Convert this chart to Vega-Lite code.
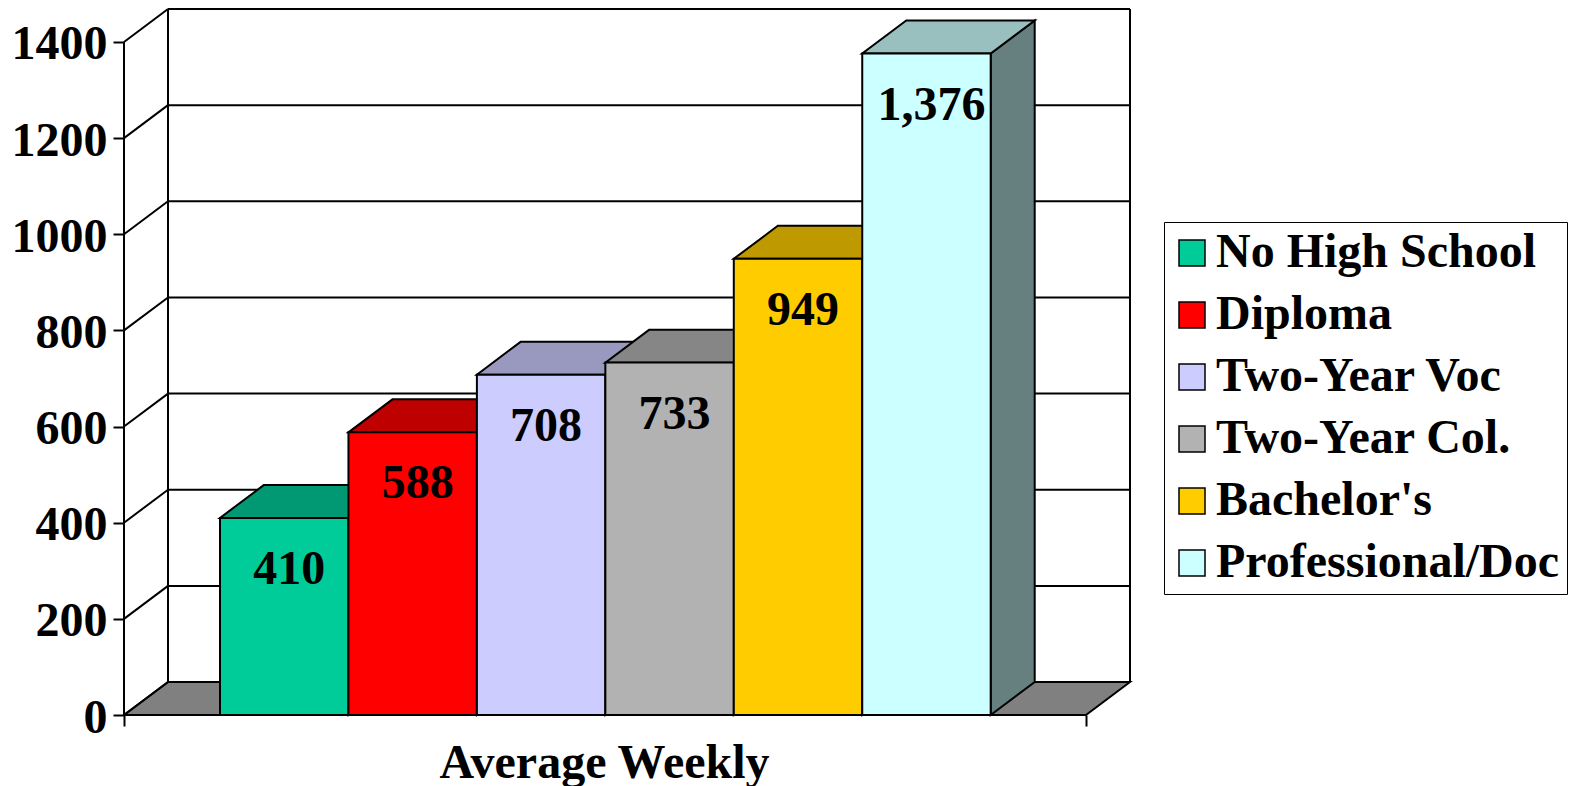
{
  "$schema": "https://vega.github.io/schema/vega-lite/v6.json",
  "width": 1006,
  "height": 706,
  "autosize": "none",
  "padding": {"left": 124, "top": 9, "right": 440, "bottom": 71},
  "config": {"font": "Liberation Serif", "view": {"stroke": null}},
  "datasets": {
    "bars": [
      {"category": "No High School", "value": 410},
      {"category": "Diploma", "value": 588},
      {"category": "Two-Year Voc", "value": 708},
      {"category": "Two-Year Col.", "value": 733},
      {"category": "Bachelor's", "value": 949},
      {"category": "Professional/Doc", "value": 1376}
    ],
    "ticks": [
      {"v": 0}, {"v": 200}, {"v": 400}, {"v": 600},
      {"v": 800}, {"v": 1000}, {"v": 1200}, {"v": 1400}
    ]
  },
  "data": {"name": "bars"},
  "resolve": {"scale": {"fill": "independent"}},
  "layer": [
    {
      "data": {"name": "ticks"},
      "transform": [
        {"filter": "datum.v == 0"},
        {"calculate": "0", "as": "d0"},
        {"calculate": "1", "as": "d1"},
        {"fold": ["d0", "d1"], "as": ["k", "d"]},
        {"calculate": "datum.d * 68.6", "as": "fy"},
        {"calculate": "datum.d * 0.3426", "as": "fx"},
        {"calculate": "7.489 + datum.d * 0.3426", "as": "fx2"}
      ],
      "mark": {"type": "area", "orient": "horizontal", "fill": "#808080", "stroke": "black", "strokeWidth": 2},
      "encoding": {
        "y": {
          "field": "fy", "type": "quantitative",
          "scale": {"domain": [0, 1468.6], "nice": false, "zero": false},
          "axis": {
            "values": [0, 200, 400, 600, 800, 1000, 1200, 1400], "format": "d",
            "title": null, "domain": false, "grid": false,
            "tickSize": 11, "tickWidth": 2, "tickColor": "black",
            "labelFontSize": 48, "labelFontWeight": "bold", "labelColor": "black",
            "labelFont": "Liberation Serif", "labelPadding": 6, "labelOffset": 3,
            "labelFlush": false, "labelBaseline": "middle"
          }
        },
        "x": {
          "field": "fx", "type": "quantitative", "stack": null,
          "scale": {"domain": [0, 7.832], "nice": false, "zero": false},
          "axis": {
            "values": [0, 7.489], "labels": false, "domain": false, "grid": false,
            "tickSize": 11, "tickWidth": 2, "tickColor": "black",
            "title": "Average Weekly", "titleFontSize": 48, "titleFontWeight": "bold",
            "titleColor": "black", "titleFont": "Liberation Serif",
            "titleX": 480, "titleY": 62, "titleBaseline": "alphabetic", "titleAlign": "center"
          }
        },
        "x2": {"field": "fx2"}
      }
    },
    {
      "data": {"name": "ticks"},
      "transform": [{"calculate": "datum.v + 68.6", "as": "by"}],
      "mark": {"type": "rule", "color": "black", "strokeWidth": 2},
      "encoding": {
        "x": {"datum": 0.3426, "type": "quantitative", "scale": {"domain": [0, 7.832], "nice": false, "zero": false}},
        "x2": {"datum": 7.832},
        "y": {"field": "by", "type": "quantitative", "scale": {"domain": [0, 1468.6], "nice": false, "zero": false}}
      }
    },
    {
      "data": {"name": "ticks"},
      "transform": [{"calculate": "datum.v + 68.6", "as": "by"}],
      "mark": {"type": "rule", "color": "black", "strokeWidth": 2},
      "encoding": {
        "x": {"datum": 0, "type": "quantitative", "scale": {"domain": [0, 7.832], "nice": false, "zero": false}},
        "x2": {"datum": 0.3426},
        "y": {"field": "v", "type": "quantitative", "scale": {"domain": [0, 1468.6], "nice": false, "zero": false}},
        "y2": {"field": "by"}
      }
    },
    {
      "data": {"values": [{}]},
      "mark": {"type": "rule", "color": "black", "strokeWidth": 2},
      "encoding": {
        "x": {"datum": 0.3426, "type": "quantitative", "scale": {"domain": [0, 7.832], "nice": false, "zero": false}},
        "y": {"datum": 68.6, "type": "quantitative", "scale": {"domain": [0, 1468.6], "nice": false, "zero": false}},
        "y2": {"datum": 1468.6}
      }
    },
    {
      "data": {"values": [{}]},
      "mark": {"type": "rule", "color": "black", "strokeWidth": 2},
      "encoding": {
        "x": {"datum": 7.832, "type": "quantitative", "scale": {"domain": [0, 7.832], "nice": false, "zero": false}},
        "y": {"datum": 68.6, "type": "quantitative", "scale": {"domain": [0, 1468.6], "nice": false, "zero": false}},
        "y2": {"datum": 1468.6}
      }
    },
    {
      "data": {"values": [{}]},
      "mark": {"type": "rule", "color": "black", "strokeWidth": 2},
      "encoding": {
        "x": {"datum": 0, "type": "quantitative", "scale": {"domain": [0, 7.832], "nice": false, "zero": false}},
        "y": {"datum": 0, "type": "quantitative", "scale": {"domain": [0, 1468.6], "nice": false, "zero": false}},
        "y2": {"datum": 1400}
      }
    },
    {
      "transform": [
        {"window": [{"op": "row_number", "as": "idx"}]},
        {"calculate": "0.7474 + datum.idx", "as": "R"},
        {"calculate": "0", "as": "d0"},
        {"calculate": "1", "as": "d1"},
        {"fold": ["d0", "d1"], "as": ["k", "d"]},
        {"calculate": "datum.R + datum.d * 0.3426", "as": "sx"},
        {"calculate": "datum.d * 68.6", "as": "sy"},
        {"calculate": "datum.value + datum.d * 68.6", "as": "sy2"}
      ],
      "mark": {"type": "area", "orient": "vertical", "stroke": "black", "strokeWidth": 2, "fillOpacity": 1},
      "encoding": {
        "x": {"field": "sx", "type": "quantitative", "scale": {"domain": [0, 7.832], "nice": false, "zero": false}},
        "y": {"field": "sy2", "type": "quantitative", "stack": null, "scale": {"domain": [0, 1468.6], "nice": false, "zero": false}},
        "y2": {"field": "sy"},
        "fill": {
          "field": "category", "type": "nominal", "legend": null,
          "scale": {
            "domain": ["No High School", "Diploma", "Two-Year Voc", "Two-Year Col.", "Bachelor's", "Professional/Doc"],
            "range": ["#006650", "#800000", "#666680", "#595959", "#806600", "#668080"]
          }
        }
      }
    },
    {
      "transform": [
        {"window": [{"op": "row_number", "as": "idx"}]},
        {"calculate": "0.7474 + datum.idx - 1", "as": "L"},
        {"calculate": "0", "as": "d0"},
        {"calculate": "1", "as": "d1"},
        {"fold": ["d0", "d1"], "as": ["k", "d"]},
        {"calculate": "datum.L + datum.d * 0.3426", "as": "tx"},
        {"calculate": "datum.L + 1 + datum.d * 0.3426", "as": "tx2"},
        {"calculate": "datum.value + datum.d * 68.6", "as": "ty"}
      ],
      "mark": {"type": "area", "orient": "horizontal", "stroke": "black", "strokeWidth": 2, "fillOpacity": 1},
      "encoding": {
        "y": {"field": "ty", "type": "quantitative", "scale": {"domain": [0, 1468.6], "nice": false, "zero": false}},
        "x": {"field": "tx", "type": "quantitative", "stack": null, "scale": {"domain": [0, 7.832], "nice": false, "zero": false}},
        "x2": {"field": "tx2"},
        "fill": {
          "field": "category", "type": "nominal", "legend": null,
          "scale": {
            "domain": ["No High School", "Diploma", "Two-Year Voc", "Two-Year Col.", "Bachelor's", "Professional/Doc"],
            "range": ["#009973", "#BF0000", "#9999BF", "#868686", "#BF9900", "#99BFBF"]
          }
        }
      }
    },
    {
      "transform": [
        {"window": [{"op": "row_number", "as": "idx"}]},
        {"calculate": "0.7474 + datum.idx - 1", "as": "L"},
        {"calculate": "0.7474 + datum.idx", "as": "R"}
      ],
      "mark": {"type": "rect", "stroke": "black", "strokeWidth": 2, "fillOpacity": 1},
      "encoding": {
        "x": {"field": "L", "type": "quantitative", "scale": {"domain": [0, 7.832], "nice": false, "zero": false}},
        "x2": {"field": "R"},
        "y": {"field": "value", "type": "quantitative", "scale": {"domain": [0, 1468.6], "nice": false, "zero": false}},
        "y2": {"datum": 0},
        "fill": {
          "field": "category", "type": "nominal",
          "scale": {
            "domain": ["No High School", "Diploma", "Two-Year Voc", "Two-Year Col.", "Bachelor's", "Professional/Doc"],
            "range": ["#00CC99", "#FF0000", "#CCCCFF", "#B2B2B2", "#FFCC00", "#CCFFFF"]
          },
          "legend": {
            "title": null, "orient": "none", "legendX": 1040, "legendY": 213,
            "symbolType": "square", "symbolSize": 676, "symbolStrokeColor": "black",
            "symbolStrokeWidth": 1.5, "symbolOpacity": 1, "symbolOffset": -3,
            "labelFontSize": 48, "labelFontWeight": "bold", "labelFont": "Liberation Serif",
            "labelColor": "black", "labelLimit": 600, "labelOffset": 0,
            "rowPadding": 14, "padding": 7, "strokeColor": "black", "fillColor": "white"
          }
        }
      }
    },
    {
      "transform": [
        {"window": [{"op": "row_number", "as": "idx"}]},
        {"calculate": "0.7474 + datum.idx - 0.5", "as": "M"}
      ],
      "mark": {"type": "text", "baseline": "alphabetic", "align": "center", "dy": 66, "dx": 5, "fontSize": 48, "fontWeight": "bold", "font": "Liberation Serif", "color": "black"},
      "encoding": {
        "x": {"field": "M", "type": "quantitative", "scale": {"domain": [0, 7.832], "nice": false, "zero": false}},
        "y": {"field": "value", "type": "quantitative", "scale": {"domain": [0, 1468.6], "nice": false, "zero": false}},
        "text": {"field": "value", "type": "quantitative", "format": ",d"}
      }
    }
  ]
}
